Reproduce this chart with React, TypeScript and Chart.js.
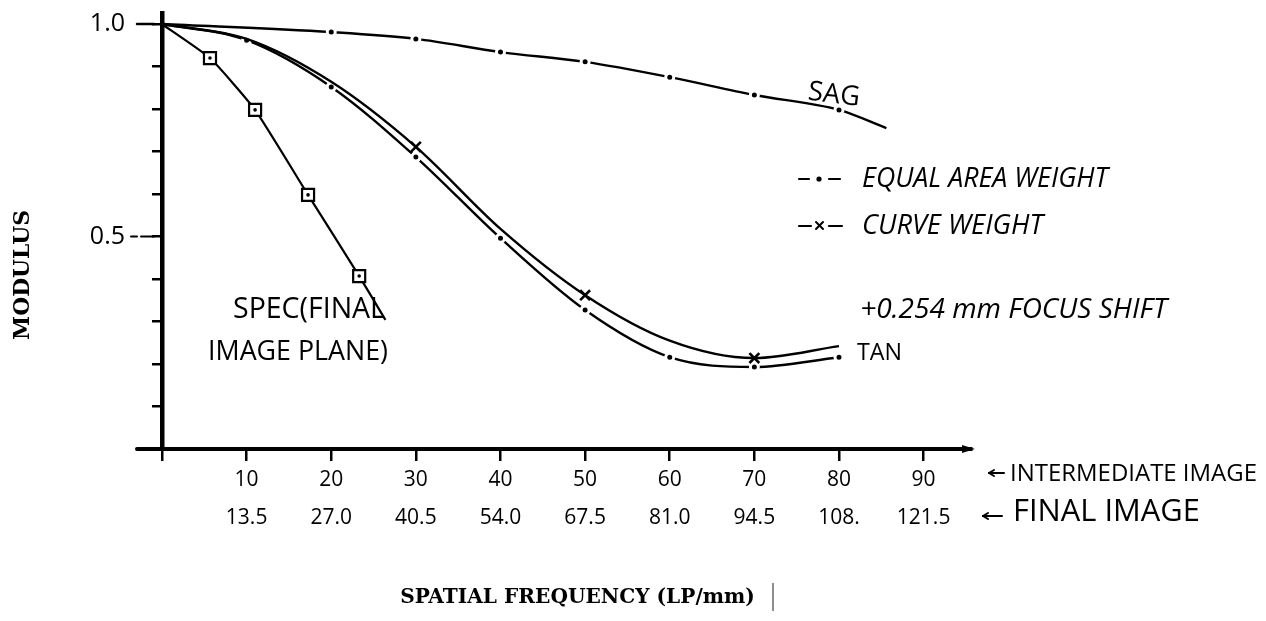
import { useEffect, useRef } from 'react';
import { Chart, registerables } from 'chart.js';

Chart.register(...registerables);

// ---- data ----
const intermediateTicks = [0, 10, 20, 30, 40, 50, 60, 70, 80, 90];
const intermediateLabels = ['', '10', '20', '30', '40', '50', '60', '70', '80', '90'];
const finalLabels = ['', '13.5', '27.0', '40.5', '54.0', '67.5', '81.0', '94.5', '108.', '121.5'];
const modulusTicks = [0, 0.1, 0.2, 0.3, 0.4, 0.5, 0.6, 0.7, 0.8, 0.9, 1.0];
const modulusLabels = ['', '', '', '', '', '0.5', '', '', '', '', '1.0'];

const sagFreq = [0, 20, 30, 40, 50, 60, 70, 80, 85.6];
const sagModulus = [1.0, 0.981, 0.965, 0.934, 0.911, 0.875, 0.833, 0.798, 0.755];

const tanFreq = [0, 10, 20, 30, 40, 50, 60, 70, 80];
const tanEqualArea = [1.0, 0.962, 0.852, 0.687, 0.496, 0.327, 0.216, 0.193, 0.216];
const tanCurveWeight = [1.0, 0.965, 0.864, 0.711, 0.518, 0.362, 0.255, 0.214, 0.242];
const curveMarkedFreq = [30, 50, 70];

const specFreq = [0, 5.67, 11.0, 17.26, 23.3, 26.4];
const specModulus = [1.0, 0.92, 0.798, 0.598, 0.407, 0.304];

const HAND = '"Open Sans", "DejaVu Sans", sans-serif';
const SERIF = '"DejaVu Serif", "Liberation Serif", serif';

function fitText(
  ctx: CanvasRenderingContext2D,
  text: string,
  x1: number,
  x2: number,
  yc: number,
  family: string,
  weight = 'normal',
  style = 'normal',
  rotation = 0
) {
  ctx.save();
  ctx.font = `${style} ${weight} 100px ${family}`;
  const w = ctx.measureText(text).width;
  const size = (100 * (x2 - x1)) / w;
  ctx.font = `${style} ${weight} ${size}px ${family}`;
  ctx.fillStyle = '#000';
  ctx.textBaseline = 'middle';
  ctx.textAlign = 'center';
  ctx.translate((x1 + x2) / 2, yc);
  ctx.rotate(rotation);
  ctx.fillText(text, 0, 0);
  ctx.restore();
}

function line(ctx: CanvasRenderingContext2D, x1: number, y1: number, x2: number, y2: number, w: number) {
  ctx.save();
  ctx.strokeStyle = '#000';
  ctx.lineWidth = w;
  ctx.lineCap = 'round';
  ctx.beginPath();
  ctx.moveTo(x1, y1);
  ctx.lineTo(x2, y2);
  ctx.stroke();
  ctx.restore();
}

const decorPlugin = {
  id: 'decor',
  afterDraw(chart: any) {
    const ctx: CanvasRenderingContext2D = chart.ctx;
    const xs = chart.scales.x;
    const ys = chart.scales.y;
    const y0 = ys.getPixelForValue(0);
    const xLeft = xs.getPixelForValue(0);
    const xRight = chart.chartArea.right;

    // axis extras
    line(ctx, xLeft - 25, y0, xLeft, y0, 4);
    const y1 = ys.getPixelForValue(1);
    line(ctx, xLeft - 25, y1, xLeft - 8, y1, 2.5);
    const yh = ys.getPixelForValue(0.5);
    line(ctx, xLeft - 31, yh, xLeft - 25, yh, 2);
    line(ctx, xLeft - 21, yh, xLeft - 8, yh, 2);
    // arrow head
    ctx.save();
    ctx.fillStyle = '#000';
    ctx.beginPath();
    ctx.moveTo(xRight + 4, y0);
    ctx.lineTo(xRight - 9, y0 - 4);
    ctx.lineTo(xRight - 9, y0 + 4);
    ctx.closePath();
    ctx.fill();
    ctx.restore();

    // curve annotations
    fitText(ctx, 'SAG', 808, 860, 95, HAND, 'normal', 'normal', 0.12);
    fitText(ctx, 'TAN', 857, 902, 353, HAND);
    fitText(ctx, 'SPEC(FINAL', 233, 385, 310, HAND);
    fitText(ctx, 'IMAGE PLANE)', 208, 388, 352, HAND);

    // legend
    line(ctx, 799, 179, 809, 179, 2.2);
    ctx.save();
    ctx.fillStyle = '#000';
    ctx.beginPath();
    ctx.arc(819, 179, 2.6, 0, Math.PI * 2);
    ctx.fill();
    ctx.restore();
    line(ctx, 829, 179, 840, 179, 2.2);
    fitText(ctx, 'EQUAL AREA WEIGHT', 862, 1108, 179, HAND, 'normal', 'italic');

    line(ctx, 799, 226, 811, 226, 2.2);
    line(ctx, 816, 222, 823, 229, 2);
    line(ctx, 823, 222, 816, 229, 2);
    line(ctx, 829, 226, 842, 226, 2.2);
    fitText(ctx, 'CURVE WEIGHT', 862, 1043, 226, HAND, 'normal', 'italic');

    fitText(ctx, '+0.254 mm FOCUS SHIFT', 860, 1167, 310, HAND, 'normal', 'italic');

    // axis row captions
    line(ctx, 989, 473, 1004, 473, 2);
    line(ctx, 989, 473, 994, 470, 2);
    line(ctx, 989, 473, 994, 476, 2);
    fitText(ctx, 'INTERMEDIATE IMAGE', 1010, 1257, 474, HAND);
    line(ctx, 983, 516, 1002, 516, 2);
    line(ctx, 983, 516, 988, 513, 2);
    line(ctx, 983, 516, 988, 519, 2);
    fitText(ctx, 'FINAL IMAGE', 1013, 1200, 512, HAND);

    // axis titles
    fitText(ctx, 'SPATIAL FREQUENCY (LP/mm)', 400, 755, 598, SERIF, 'bold');
    ctx.save();
    ctx.strokeStyle = '#444';
    ctx.lineWidth = 1.2;
    ctx.beginPath();
    ctx.moveTo(773, 583);
    ctx.lineTo(773, 611);
    ctx.stroke();
    ctx.restore();

    ctx.save();
    ctx.font = `bold 100px ${SERIF}`;
    const w = ctx.measureText('MODULUS').width;
    const size = (100 * 130) / w;
    ctx.font = `bold ${size}px ${SERIF}`;
    ctx.fillStyle = '#000';
    ctx.textAlign = 'center';
    ctx.textBaseline = 'middle';
    ctx.translate(23, 275);
    ctx.rotate(-Math.PI / 2);
    ctx.fillText('MODULUS', 0, 0);
    ctx.restore();
  },
};

const toXY = (xs: number[], ys: number[]) => xs.map((x, i) => ({ x, y: ys[i] }));

export default function App() {
  const ref = useRef<HTMLCanvasElement | null>(null);

  useEffect(() => {
    if (!ref.current) return;
    const dotRing = {
      pointBackgroundColor: '#000',
      pointBorderColor: '#fff',
      pointBorderWidth: 3,
    };
    const chart = new Chart(ref.current, {
      type: 'line',
      data: {
        datasets: [
          {
            label: 'Curve weight (TAN)',
            data: toXY(tanFreq, tanCurveWeight),
            borderColor: '#000',
            borderWidth: 2.4,
            cubicInterpolationMode: 'monotone',
            pointStyle: 'crossRot',
            pointRadius: tanFreq.map((f) => (curveMarkedFreq.includes(f) ? 7 : 0)),
            pointBorderColor: '#000',
            pointBorderWidth: 2.6,
          },
          {
            label: 'Equal area weight (TAN)',
            data: toXY(tanFreq, tanEqualArea),
            borderColor: '#000',
            borderWidth: 2.4,
            cubicInterpolationMode: 'monotone',
            pointRadius: tanFreq.map((_, i) => (i === 0 ? 0 : 4)),
            ...dotRing,
          },
          {
            label: 'Equal area weight (SAG)',
            data: toXY(sagFreq, sagModulus),
            borderColor: '#000',
            borderWidth: 2.4,
            cubicInterpolationMode: 'monotone',
            pointRadius: sagFreq.map((_, i) => (i === 0 || i === sagFreq.length - 1 ? 0 : 4)),
            ...dotRing,
          },
          {
            label: 'Spec centres',
            data: toXY(specFreq, specModulus),
            showLine: false,
            pointRadius: specFreq.map((_, i) => (i === 0 || i === specFreq.length - 1 ? 0 : 1.8)),
            pointBackgroundColor: '#000',
            pointBorderWidth: 0,
          },
          {
            label: 'Spec (final image plane)',
            data: toXY(specFreq, specModulus),
            borderColor: '#000',
            borderWidth: 2.2,
            tension: 0.15,
            pointStyle: 'rect',
            pointRadius: specFreq.map((_, i) => (i === 0 || i === specFreq.length - 1 ? 0 : 8.5)),
            pointBackgroundColor: '#fff',
            pointBorderColor: '#000',
            pointBorderWidth: 2.2,
          },
        ],
      },
      options: {
        animation: false,
        responsive: true,
        maintainAspectRatio: false,
        events: [],
        layout: { padding: { top: 13, right: 295, bottom: 0, left: 0 } },
        plugins: {
          legend: { display: false },
          tooltip: { enabled: false },
          title: { display: false },
        },
        scales: {
          x: {
            type: 'linear',
            min: 0,
            max: 95.6,
            afterBuildTicks: (scale: any) => {
              scale.ticks = intermediateTicks.map((v) => ({ value: v }));
            },
            afterFit: (scale: any) => {
              scale.height = 172;
              scale.paddingLeft = 0;
              scale.paddingRight = 0;
            },
            grid: {
              drawOnChartArea: false,
              drawTicks: true,
              tickLength: 12,
              color: '#000',
              lineWidth: 2.5,
            },
            border: { display: true, color: '#000', width: 4 },
            ticks: {
              autoSkip: false,
              maxRotation: 0,
              padding: 0,
              color: '#000',
              font: { family: HAND, size: 21, lineHeight: 38 / 21 },
              callback: (value: any) => {
                const i = intermediateTicks.indexOf(Number(value));
                if (i <= 0) return '';
                return [intermediateLabels[i], finalLabels[i]];
              },
            },
          },
          y: {
            type: 'linear',
            min: 0,
            max: 1.026,
            afterBuildTicks: (scale: any) => {
              scale.ticks = modulusTicks.map((v) => ({ value: v }));
            },
            afterFit: (scale: any) => {
              scale.width = 162;
              scale.paddingTop = 0;
              scale.paddingBottom = 0;
            },
            grid: {
              drawOnChartArea: false,
              drawTicks: true,
              tickLength: 10,
              color: '#000',
              lineWidth: 2.5,
            },
            border: { display: true, color: '#000', width: 4.5 },
            ticks: {
              autoSkip: false,
              padding: 27,
              color: '#000',
              font: { family: HAND, size: 25, lineHeight: 1 },
              callback: (_value: any, index: number) => modulusLabels[index] ?? '',
            },
          },
        },
      },
      plugins: [decorPlugin],
    } as any);
    return () => chart.destroy();
  }, []);

  return (
    <div
      style={{
        position: 'fixed',
        left: 0,
        top: 0,
        width: 1266,
        height: 621,
        background: '#fff',
      }}
    >
      <canvas ref={ref} />
    </div>
  );
}
